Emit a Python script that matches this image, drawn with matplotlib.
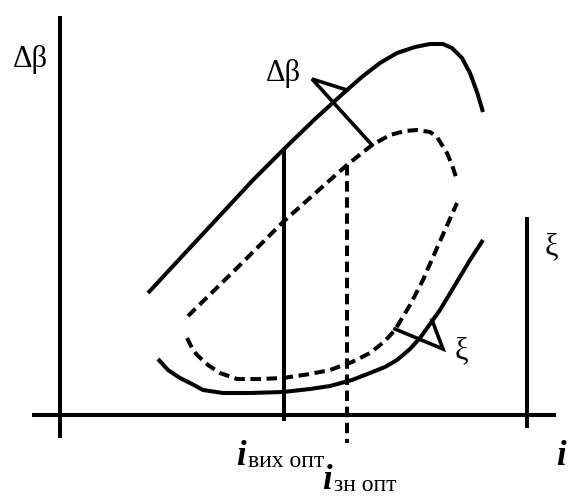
import matplotlib
matplotlib.use("Agg")
import matplotlib.pyplot as plt

# Coordinates (x = incidence i, y = value), origin at axis crossing
OX, OY = 60, 415

def tx(xs): return [x - OX for x in xs]
def ty(ys): return [OY - y for y in ys]

# Upper solid curve (Δβ, outlet)
db_x = [148, 200, 253, 283, 315, 347, 363, 380, 397, 415, 430, 443, 452, 462, 470, 477, 483]
db_y = [293, 237, 180, 150, 119, 90, 76, 63, 53, 47, 44, 44, 48, 58, 73, 92, 112]
# Upper dashed curve (Δβ, inlet)
dbd_x = [188, 235, 283, 330, 347, 372, 390, 405, 417, 430, 437, 447, 452, 457]
dbd_y = [316, 270, 222, 180, 165, 145, 135, 131, 130, 132, 137, 153, 165, 180]
# Lower dashed curve (ξ, inlet)
xid_x = [187, 192, 197, 208, 220, 237, 260, 283, 310, 330, 352, 370, 385, 395, 410, 423, 433, 445, 457]
xid_y = [338, 348, 355, 365, 373, 379, 379, 378, 374, 370, 362, 353, 341, 330, 305, 280, 257, 230, 203]
# Lower solid curve (ξ, outlet)
xis_x = [158, 168, 180, 192, 203, 223, 250, 283, 310, 330, 352, 370, 385, 397, 410, 420, 440, 458, 470, 483]
xis_y = [359, 370, 378, 384, 390, 393, 393, 392, 389, 386, 380, 373, 367, 360, 349, 338, 310, 280, 260, 240]

# Optimal incidence verticals
i_out_x, i_out_y = [284, 284], [150, 421]
i_in_x, i_in_y = [347, 347], [165, 443]
# Leaders
lead_db_x, lead_db_y = [347, 312, 372], [90, 79, 145]
lead_xi_x, lead_xi_y = [395, 443, 432], [329, 349, 320]

fig = plt.figure(figsize=(5.70, 4.96), dpi=100)
ax = fig.add_axes([0, 0, 1, 1])
ax.set_xlim(-OX, 570 - OX)
ax.set_ylim(OY - 496, OY)
ax.axis("off")

LW = 2.9
kw = dict(color="black", lw=LW, solid_capstyle="butt", solid_joinstyle="round")
dkw = dict(color="black", lw=LW, linestyle=(0, (2.6, 1.4)), dash_capstyle="butt")

# axes
ax.plot(tx([60, 60]), ty([16, 438]), **kw)
ax.plot(tx([32, 556]), ty([415, 415]), **kw)
ax.plot(tx([527, 527]), ty([217, 428]), **kw)

ax.plot(tx(db_x), ty(db_y), **kw)
ax.plot(tx(dbd_x), ty(dbd_y), **dkw)
ax.plot(tx(xid_x), ty(xid_y), **dkw)
ax.plot(tx(xis_x), ty(xis_y), **kw)
ax.plot(tx(i_out_x), ty(i_out_y), **kw)
ax.plot(tx(i_in_x), ty(i_in_y), **dkw)
ax.plot(tx(lead_db_x), ty(lead_db_y), color="black", lw=2.6, solid_joinstyle="miter")
ax.plot(tx(lead_xi_x), ty(lead_xi_y), color="black", lw=2.6, solid_joinstyle="miter")

serif = ["Liberation Serif", "DejaVu Serif"]

def put(px, py, s, **k):
    ax.text(tx([px])[0], ty([py])[0], s, family=serif, **k)

put(30, 60, "Δβ", fontsize=22, ha="center", va="center")
put(283, 73, "Δβ", fontsize=22, ha="center", va="center")
put(551, 247, "ξ", fontsize=22, ha="center", va="center")
put(461, 351, "ξ", fontsize=22, ha="center", va="center")
put(561, 465, "i", fontsize=25, style="italic", weight="bold", ha="center", va="baseline")

put(236, 465, "i", fontsize=25, style="italic", weight="bold", ha="left", va="baseline")
put(248, 467, "вих опт", fontsize=17, ha="left", va="baseline")
put(322, 489, "i", fontsize=25, style="italic", weight="bold", ha="left", va="baseline")
put(334, 491, "зн опт", fontsize=17, ha="left", va="baseline")

fig.savefig("out.png", dpi=100)
